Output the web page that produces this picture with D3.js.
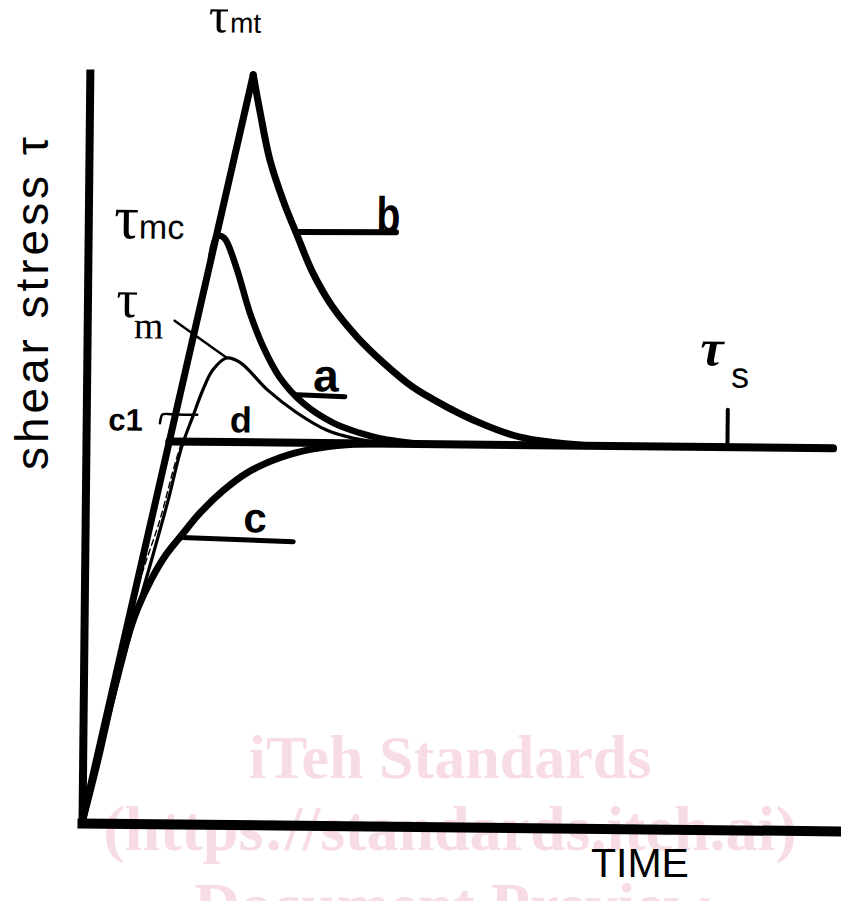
<!DOCTYPE html>
<html>
<head>
  <title>Shear stress against time</title>
  <meta charset="utf-8" />
  <script src="https://cdn.jsdelivr.net/npm/d3@7"></script>
  <style>
  body { margin: 0; background: #fff; }
  svg { display: block; }
  .curve { fill: none; stroke: #000; stroke-linecap: round; stroke-linejoin: round; }
  .axis .domain { stroke: #000; stroke-linecap: square; }
  </style>
</head>
<body>
  <script>
  // time (0-100) / shear stress (0-100)
  var peakTime = 21.5, peakStress = 100;   // tau_mt
  var steadyStress = 51;                    // tau_s
  var steadyEnd = 98.3;

  var riseLine = [[0, 0], [peakTime, peakStress]];
  var curveB = [[21.5, 100], [22.4, 95.3], [23.8, 88.7], [25.6, 83.3], [27.6, 78.4], [29.6, 73.7],
    [32.3, 69.1], [35.5, 65.2], [39.0, 61.8], [42.9, 58.6], [47.4, 56.0], [51.8, 53.9],
    [56.2, 52.3], [59.7, 51.6], [66, 51]];
  var curveA = [[16.2, 75.5], [17.0, 78.4], [17.9, 78.2], [19.5, 74.4], [21.4, 68.2], [23.2, 63.7],
    [25.4, 59.7], [28.5, 56.3], [32.5, 53.7], [36.0, 52.4], [38.7, 51.7], [44, 51]];
  var curveD = [[0, 0], [4.3, 17.8], [6.6, 27.1], [8.8, 35.2], [10.9, 43.2], [12.6, 50.3], [14.0, 54.3],
    [15.3, 57.9], [16.6, 60.6], [18.4, 62.2], [20.2, 61.6], [23.8, 58.0], [27.7, 55.0],
    [31.7, 52.7], [35.1, 51.7], [40, 51]];
  var curveC = [[0, 0], [2.0, 8.4], [3.9, 17.3], [5.4, 23.6], [7.0, 28.6], [8.8, 32.6], [10.7, 35.9],
    [12.7, 38.5], [15.1, 41.5], [18.1, 44.5], [21.2, 46.9], [25.6, 49.0], [29.9, 50.2],
    [34.3, 50.8], [39, 51]];
  var curveC1 = [[3.8, 16.4], [7.3, 32.4], [9.8, 40.4], [11.7, 47.9], [12.5, 50.6]];

  var W = 841, H = 901;
  var sans = "'Liberation Sans', Arial, sans-serif";
  var serif = "'Liberation Serif', 'Times New Roman', serif";

  var svg = d3.select("body").append("svg")
    .attr("width", W)
    .attr("height", H);

  // watermark of the scan
  var wm = svg.append("g")
    .attr("fill", "#f7dce5")
    .attr("font-family", serif)
    .attr("font-weight", "bold")
    .attr("text-anchor", "middle");
  wm.append("text").attr("x", 450).attr("y", 778).attr("font-size", 62).text("iTeh Standards");
  wm.append("text").attr("x", 450).attr("y", 850).attr("font-size", 64).text("(https://standards.iteh.ai)");
  wm.append("text").attr("x", 452).attr("y", 927).attr("font-size", 64).text("Document Preview");

  var x = d3.scaleLinear().domain([0, 100]).range([82, 842]);
  var y = d3.scaleLinear().domain([0, 100]).range([823, 73]);

  // the scan is turned a little clockwise
  var plot = svg.append("g")
    .attr("transform", "rotate(0.6," + x(0) + "," + y(0) + ")");

  plot.append("g")
    .attr("class", "axis")
    .attr("transform", "translate(0," + y(0) + ")")
    .call(d3.axisBottom(x).tickValues([]).tickSizeOuter(0))
    .select(".domain").attr("stroke-width", 10);

  plot.append("g")
    .attr("class", "axis")
    .attr("transform", "translate(" + x(0) + ",0)")
    .call(d3.axisLeft(y).tickValues([]).tickSizeOuter(0))
    .select(".domain").attr("stroke-width", 8);

  var straight = d3.line().x(function(d) { return x(d[0]); }).y(function(d) { return y(d[1]); });
  var smooth = d3.line().x(function(d) { return x(d[0]); }).y(function(d) { return y(d[1]); })
    .curve(d3.curveCatmullRom.alpha(0.5));
  var hook = d3.line().x(function(d) { return x(d[0]); }).y(function(d) { return y(d[1]); })
    .curve(d3.curveBasis);

  function draw(gen, pts, w) {
    return plot.append("path").attr("class", "curve").attr("d", gen(pts)).attr("stroke-width", w);
  }

  draw(smooth, curveC1, 1.4).attr("stroke-dasharray", "6,4");
  draw(smooth, curveD, 3.2);
  draw(smooth, curveC, 7);
  draw(smooth, curveA, 6.5);
  draw(smooth, curveB, 7);
  draw(straight, riseLine, 7);
  draw(straight, [[peakTime * steadyStress / peakStress, steadyStress], [steadyEnd, steadyStress]], 8);

  // leader lines and tick
  draw(straight, [[27.5, 79.1], [40.5, 79.2]], 6);     // b
  draw(straight, [[27.7, 57.4], [34.0, 57.2]], 5);     // a
  draw(straight, [[12.7, 38.2], [27.4, 37.8]], 5);     // c
  draw(straight, [[11.5, 67.1], [18.3, 62.3]], 2.5);   // tau_m
  draw(hook, [[9.7, 53.4], [9.9, 54.8], [10.6, 54.6], [14.6, 54.6]], 2.5); // c1
  draw(straight, [[84.4, 56.0], [84.4, steadyStress]], 4); // tau_s

  function txt(px, py, size, fam, weight) {
    return plot.append("text")
      .attr("x", x(px)).attr("y", y(py))
      .attr("font-family", fam || sans)
      .attr("font-size", size)
      .attr("font-weight", weight || "normal")
      .attr("fill", "#000");
  }

  txt(37.9, 79.2, 50, sans, "bold").attr("textLength", 24).attr("lengthAdjust", "spacingAndGlyphs").text("b");
  txt(29.8, 57.9, 46, sans, "bold").text("a");
  txt(20.8, 39.0, 42, sans, "bold").text("c");
  txt(18.9, 52.3, 36, sans, "bold").text("d");
  txt(2.9, 52.4, 31, sans, "bold").text("c1");

  var tmt = txt(15.6, 105.6, 50, serif);
  tmt.append("tspan").text("τ");
  tmt.append("tspan").attr("font-family", sans).attr("font-size", 28).attr("dx", 1).text("mt");

  var tmc = txt(3.4, 78.0, 62, serif);
  tmc.append("tspan").text("τ");
  tmc.append("tspan").attr("font-family", sans).attr("font-size", 34).attr("dx", 0).text("mc");

  var tm = txt(3.8, 67.5, 54, serif);
  tm.append("tspan").text("τ");
  tm.append("tspan").attr("font-size", 38).attr("dx", -4).attr("dy", 21).text("m");

  var ts = txt(80.7, 61.9, 52, serif, "bold");
  ts.append("tspan").attr("font-style", "italic").text("τ");
  ts.append("tspan").attr("font-family", sans).attr("font-weight", "normal")
    .attr("font-size", 36).attr("dx", 8).attr("dy", 22).text("s");

  // axis titles
  svg.append("text")
    .attr("x", 591).attr("y", 877)
    .attr("font-family", sans).attr("font-size", 41)
    .text("TIME");

  svg.append("text")
    .attr("transform", "translate(48,470) rotate(-90)")
    .attr("font-family", sans).attr("font-size", 46)
    .attr("textLength", 333).attr("lengthAdjust", "spacing")
    .text("shear stress τ");
  </script>
</body>
</html>
